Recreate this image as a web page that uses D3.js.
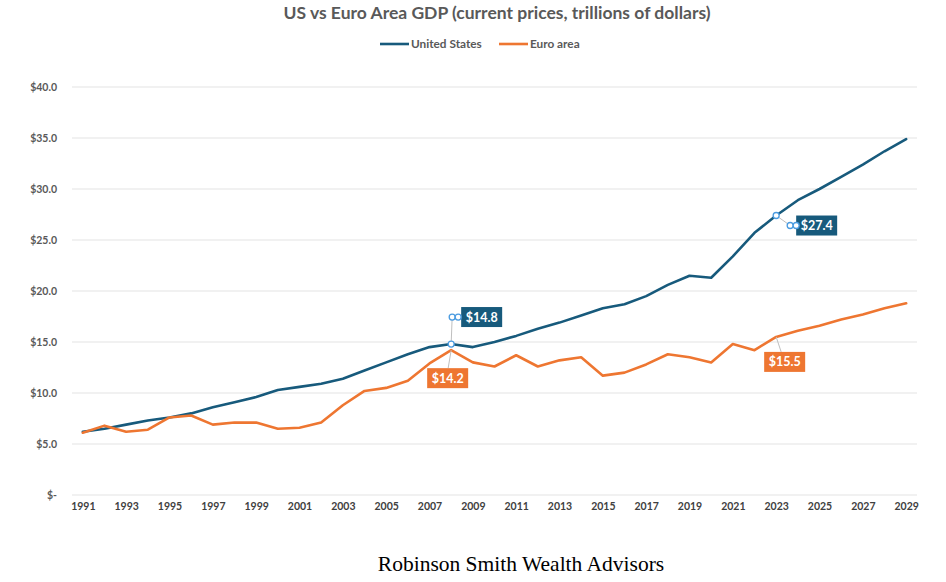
<!DOCTYPE html>
<html>
<head>
<meta charset="utf-8">
<script src="https://cdn.jsdelivr.net/npm/d3@7"></script>
<style>
  body { margin: 0; background: #fff; }
  svg text { font-family: Lato, "Open Sans", sans-serif; }
  svg text.footer { font-family: "Liberation Serif", "Times New Roman", serif; }
</style>
</head>
<body>
<div id="chart"></div>
<script>
// chart data
const years = d3.range(1991, 2030).map(String);
const usGdp = [6.2, 6.5, 6.9, 7.3, 7.6, 8.0, 8.6, 9.1, 9.6, 10.3,
  10.6, 10.9, 11.4, 12.2, 13.0, 13.8, 14.5, 14.8, 14.5, 15.0,
  15.6, 16.3, 16.9, 17.6, 18.3, 18.7, 19.5, 20.6, 21.5, 21.3,
  23.4, 25.7, 27.4, 28.9, 30.0, 31.2, 32.4, 33.7, 34.9];
const euroGdp = [6.1, 6.8, 6.2, 6.4, 7.6, 7.8, 6.9, 7.1, 7.1, 6.5,
  6.6, 7.1, 8.8, 10.2, 10.5, 11.2, 12.9, 14.2, 13.0, 12.6,
  13.7, 12.6, 13.2, 13.5, 11.7, 12.0, 12.8, 13.8, 13.5, 13.0,
  14.8, 14.2, 15.5, 16.1, 16.6, 17.2, 17.7, 18.3, 18.8];
const yTicks = [0, 5, 10, 15, 20, 25, 30, 35, 40];
const xTicks = years.filter((d, i) => i % 2 === 0);

const seriesList = [
  { name: 'United States', values: usGdp, color: '#175a7c' },
  { name: 'Euro area', values: euroGdp, color: '#ee7631' }
];
// labelled points: series, year, label offset
const callouts = [
  { s: 0, year: '2008', dx: 10, dy: -27, leader: [1, -27] },
  { s: 1, year: '2008', dx: -24, dy: 28, leader: [-3, 18] },
  { s: 0, year: '2023', dx: 20, dy: 10, leader: [14, 10] },
  { s: 1, year: '2023', dx: -12, dy: 25, leader: [5, 15] }
];

const width = 946;
const height = 582;
const grey = '#595959';

const svg = d3.select('#chart')
  .append('svg')
  .attr('width', width)
  .attr('height', height);

const x = d3.scalePoint()
  .domain(years)
  .range([72, 917])
  .padding(0.5);

const y = d3.scaleLinear()
  .domain([0, 40])
  .range([495, 87]);

// gridlines
svg.append('g')
  .selectAll('line')
  .data(yTicks)
  .enter()
  .append('line')
  .attr('x1', 72)
  .attr('x2', 917)
  .attr('y1', d => y(d))
  .attr('y2', d => y(d))
  .attr('stroke', '#e3e3e3')
  .attr('stroke-width', 1);

// y axis labels
const yAxis = d3.axisLeft(y)
  .tickValues(yTicks)
  .tickSize(0)
  .tickPadding(0)
  .tickFormat(d => d === 0 ? '$-' : '$' + d.toFixed(1));

svg.append('g')
  .attr('transform', 'translate(57,0)')
  .call(yAxis)
  .call(g => g.select('.domain').remove())
  .selectAll('text')
  .attr('fill', grey)
  .attr('font-size', 10.5)
  .attr('font-weight', 'bold')
  .attr('font-family', 'Lato, sans-serif');

// x axis labels
const xAxis = d3.axisBottom(x)
  .tickValues(xTicks)
  .tickSize(0)
  .tickPadding(8);

svg.append('g')
  .attr('transform', 'translate(0,495)')
  .call(xAxis)
  .call(g => g.select('.domain').remove())
  .selectAll('text')
  .attr('fill', '#404040')
  .attr('font-size', 10.5)
  .attr('font-weight', 'bold')
  .attr('font-family', 'Lato, sans-serif');

// lines
const line = d3.line()
  .x((d, i) => x(years[i]))
  .y(d => y(d));

svg.append('g')
  .selectAll('path')
  .data(seriesList)
  .enter()
  .append('path')
  .attr('d', d => line(d.values))
  .attr('fill', 'none')
  .attr('stroke', d => d.color)
  .attr('stroke-width', 2.6)
  .attr('stroke-linejoin', 'round')
  .attr('stroke-linecap', 'round');

// callouts
const cg = svg.append('g');
callouts.forEach(c => {
  const ser = seriesList[c.s];
  const v = ser.values[years.indexOf(c.year)];
  const px = x(c.year);
  const py = y(v);
  const lx = px + c.leader[0];
  const ly = py + c.leader[1];
  cg.append('line')
    .attr('x1', px).attr('y1', py)
    .attr('x2', lx).attr('y2', ly)
    .attr('stroke', '#bfbfbf')
    .attr('stroke-width', 1);
  const txt = '$' + v.toFixed(1);
  const bx = px + c.dx;
  const by = py + c.dy;
  cg.append('rect')
    .attr('x', bx)
    .attr('y', by - 10)
    .attr('width', 41)
    .attr('height', 20)
    .attr('fill', ser.color);
  cg.append('text')
    .attr('x', bx + 20.5)
    .attr('y', by + 4.5)
    .attr('text-anchor', 'middle')
    .attr('fill', '#fff')
    .attr('font-size', 12.5)
    .attr('font-weight', 'bold')
    .text(txt);
  if (c.s === 0) {
    // selection handles
    [lx, lx + 6].forEach(hx => {
      cg.append('circle')
        .attr('cx', hx).attr('cy', ly)
        .attr('r', 3)
        .attr('fill', '#fff')
        .attr('stroke', '#4a9be0')
        .attr('stroke-width', 1.3);
    });
    cg.append('circle')
      .attr('cx', px).attr('cy', py)
      .attr('r', 3)
      .attr('fill', '#fff')
      .attr('stroke', '#4a9be0')
      .attr('stroke-width', 1.3);
  }
});

// title
svg.append('text')
  .attr('x', 497)
  .attr('y', 19)
  .attr('text-anchor', 'middle')
  .attr('fill', grey)
  .attr('font-size', 17.5)
  .attr('font-weight', 'bold')
  .text('US vs Euro Area GDP (current prices, trillions of dollars)');

// legend
const legendX = [380, 499];
const lg = svg.append('g');
seriesList.forEach((s, i) => {
  lg.append('line')
    .attr('x1', legendX[i]).attr('x2', legendX[i] + 29)
    .attr('y1', 44).attr('y2', 44)
    .attr('stroke', s.color)
    .attr('stroke-width', 2.6);
  lg.append('text')
    .attr('x', legendX[i] + 31)
    .attr('y', 48)
    .attr('fill', grey)
    .attr('font-size', 11.8)
    .attr('font-weight', 'bold')
    .text(s.name);
});

// footer
svg.append('text')
  .attr('class', 'footer')
  .attr('x', 521)
  .attr('y', 571)
  .attr('text-anchor', 'middle')
  .attr('fill', '#000')
  .attr('font-size', 21.5)
  .text('Robinson Smith Wealth Advisors');
</script>
</body>
</html>
